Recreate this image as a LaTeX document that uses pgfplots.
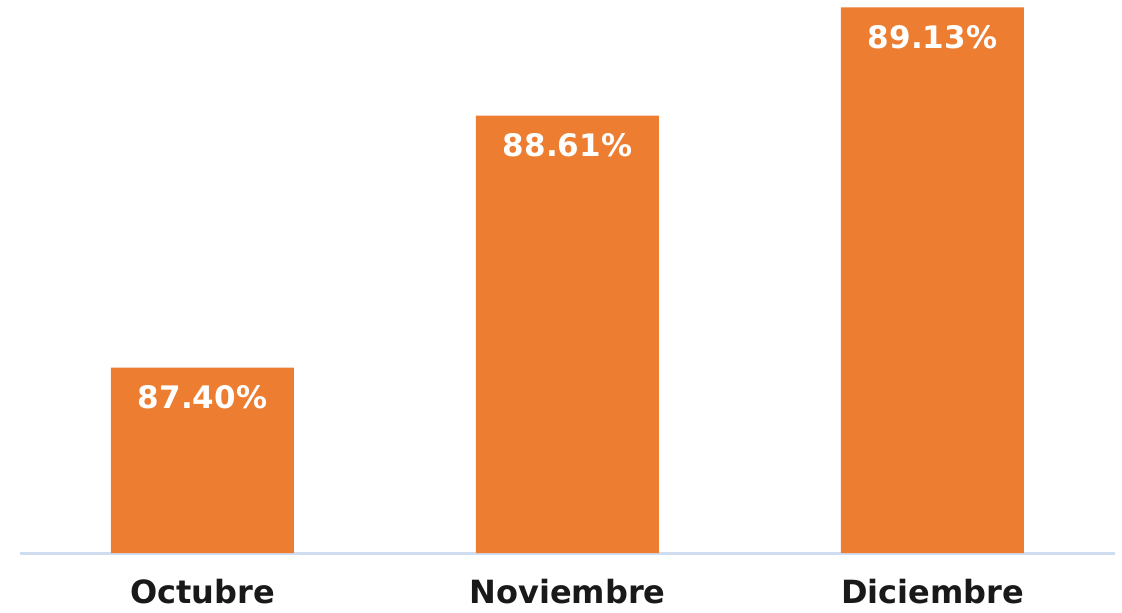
\documentclass[border=0pt]{standalone}
\usepackage{pgfplots}
\pgfplotsset{compat=1.18}
\usepackage{fontspec}
\setmainfont{DejaVu Sans}
\definecolor{barorange}{HTML}{ED7D31}
\definecolor{axisblue}{HTML}{D0DCF0}
\begin{document}
\begin{tikzpicture}
\useasboundingbox (-20pt,-60pt) rectangle (1102pt,553pt);
\begin{axis}[
  at={(0,0)}, anchor=south west,
  scale only axis,
  width=1095pt, height=553pt,
  xmin=-0.5, xmax=2.5,
  ymin=86.51, ymax=89.165,
  axis y line=none,
  axis x line*=bottom,
  x axis line style={axisblue, line width=3pt, -},
  xtick=data,
  xticklabels={Octubre,Noviembre,Diciembre},
  xticklabel style={font=\fontsize{32}{36}\selectfont\bfseries, text=black!90, yshift=-23pt},
  major tick length=0pt,
  ybar, bar width=183pt,
  clip=false,
  /pgf/number format/assume math mode=true,
  nodes near coords={\pgfmathprintnumber[fixed,fixed zerofill,precision=2,assume math mode=true]{\pgfplotspointmeta}\%},
  every node near coord/.append style={anchor=center, yshift=-30pt, text=white, font=\fontsize{31}{36}\selectfont\bfseries},
]
\addplot[fill=barorange, draw=none] coordinates {(0,87.40) (1,88.61) (2,89.13)};
\end{axis}
\end{tikzpicture}
\end{document}
